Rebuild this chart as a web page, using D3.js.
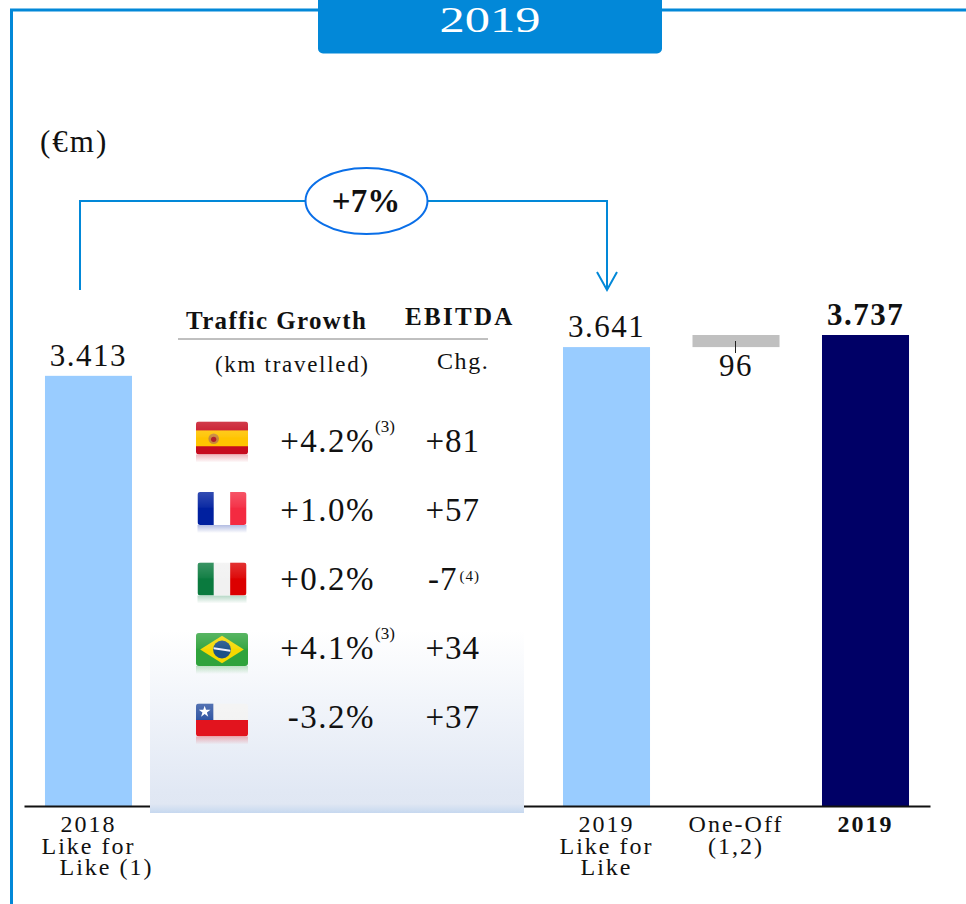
<!DOCTYPE html>
<html>
<head>
<meta charset="utf-8">
<script src="https://cdnjs.cloudflare.com/ajax/libs/d3/7.8.5/d3.min.js"></script>
<style>
  body { margin: 0; background: #fff; }
  svg { display: block; }
  text { font-family: "Liberation Serif", serif; fill: #111; }
</style>
</head>
<body>
<svg width="966" height="904"></svg>
<script>
// Chart values
var categories = ["2018 LfL", "gap1", "gap2", "gap3", "2019 LfL", "One-Off", "2019"];
var barCategories = ["2018 LfL", "2019 LfL", "One-Off", "2019"];
var barStart = [0, 0, 3641, 0];
var barEnd = [3413, 3641, 3737, 3737];
var barLabels = ["3.413", "3.641", "96", "3.737"];
var barColors = ["#99ccff", "#99ccff", "#c0c0c0", "#000066"];
var tickLabels = [["2018", "Like for", "Like (1)"], ["2019", "Like for", "Like"], ["One-Off", "(1,2)"], ["2019"]];

// Table values
var countries = ["Spain", "France", "Italy", "Brazil", "Chile"];
var trafficGrowth = ["+4.2%", "+1.0%", "+0.2%", "+4.1%", "-3.2%"];
var trafficNotes = ["(3)", "", "", "(3)", ""];
var ebitdaChange = ["+81", "+57", "-7", "+34", "+37"];
var ebitdaNotes = ["", "", "(4)", "", ""];

var svg = d3.select("svg");
var defs = svg.append("defs");
var lineBlue = "#0288d8";

// Scales
var x = d3.scaleBand()
    .domain(categories)
    .range([24, 930])
    .paddingInner(0.328)
    .paddingOuter(0.162);
var y = d3.scaleLinear()
    .domain([0, 3737])
    .range([806, 335]);
var flagY = d3.scalePoint().domain(countries).range([438, 720]);
var rowY = d3.scalePoint().domain(countries).range([452, 728]);

// Frame and title tab
svg.append("path")
    .attr("d", "M11.5,904V10H966")
    .attr("fill", "none")
    .attr("stroke", lineBlue)
    .attr("stroke-width", 3);
svg.append("rect")
    .attr("x", 318).attr("y", -10)
    .attr("width", 344).attr("height", 63.5)
    .attr("rx", 5)
    .attr("fill", "#0288d8");
svg.append("text")
    .attr("x", 490).attr("y", 31.5)
    .attr("text-anchor", "middle")
    .attr("font-size", 35)
    .attr("textLength", 101)
    .attr("lengthAdjust", "spacingAndGlyphs")
    .style("fill", "#fff")
    .text("2019");
svg.append("text")
    .attr("x", 40).attr("y", 152)
    .attr("font-size", 31)
    .attr("letter-spacing", 2)
    .text("(€m)");

// Bars
svg.append("g")
    .selectAll("rect")
    .data(barCategories)
    .enter()
    .append("rect")
    .attr("x", function (d) { return x(d); })
    .attr("width", x.bandwidth())
    .attr("y", function (d, i) { return y(barEnd[i]); })
    .attr("height", function (d, i) { return y(barStart[i]) - y(barEnd[i]); })
    .attr("fill", function (d, i) { return barColors[i]; });

// Axis
var axis = svg.append("g")
    .attr("transform", "translate(0,806)")
    .call(d3.axisBottom(x).tickValues(barCategories).tickSize(0).tickSizeOuter(0).tickFormat(""));
axis.select(".domain").attr("stroke", "#111").attr("stroke-width", 2);
axis.selectAll(".tick text").remove();
axis.selectAll(".tick")
    .append("text")
    .attr("text-anchor", "middle")
    .attr("font-size", 24)
    .attr("letter-spacing", 2)
    .attr("font-weight", function (d) { return d == "2019" ? "bold" : "normal"; })
    .selectAll("tspan")
    .data(function (d) { return tickLabels[barCategories.indexOf(d)]; })
    .enter()
    .append("tspan")
    .attr("x", function (d) { return d == "Like (1)" ? 18 : 0; })
    .attr("y", function (d, i) { return 26 + i * 21.5; })
    .text(function (d) { return d; });

// Bar labels
svg.append("g")
    .selectAll("text")
    .data(barLabels)
    .enter()
    .append("text")
    .attr("x", function (d, i) { return x(barCategories[i]) + x.bandwidth() / 2; })
    .attr("y", function (d, i) { return i == 2 ? y(barStart[i]) + 29 : y(barEnd[i]) - 10; })
    .attr("text-anchor", "middle")
    .attr("font-size", 31)
    .attr("letter-spacing", 1.5)
    .attr("font-weight", function (d, i) { return i == 3 ? "bold" : "normal"; })
    .text(function (d) { return d; });
svg.append("line")
    .attr("x1", 735.5).attr("x2", 735.5)
    .attr("y1", y(3737) + 6).attr("y2", y(3737) + 18)
    .attr("stroke", "#222");

// Growth connector
svg.append("path")
    .attr("d", "M80,290V201H607V290M597,272L607,290L617,272")
    .attr("fill", "none")
    .attr("stroke", lineBlue)
    .attr("stroke-width", 2);
svg.append("ellipse")
    .attr("cx", 366.5).attr("cy", 201)
    .attr("rx", 61).attr("ry", 33)
    .attr("fill", "#fff")
    .attr("stroke", "#0a6fe8")
    .attr("stroke-width", 2);
svg.append("text")
    .attr("x", 366).attr("y", 212)
    .attr("text-anchor", "middle")
    .attr("font-size", 33)
    .attr("font-weight", "bold")
    .text("+7%");

// Table panel
var panelGrad = defs.append("linearGradient")
    .attr("id", "panelGrad")
    .attr("x1", 0).attr("x2", 0).attr("y1", 0).attr("y2", 1);
panelGrad.selectAll("stop")
    .data([[0, "#fff"], [0.88, "#e1e8f4"], [0.95, "#e0e7f3"], [1, "#c6d8ef"]])
    .enter()
    .append("stop")
    .attr("offset", function (d) { return d[0]; })
    .attr("stop-color", function (d) { return d[1]; });
svg.append("rect")
    .attr("x", 150).attr("y", 630)
    .attr("width", 374).attr("height", 183)
    .attr("fill", "url(#panelGrad)");

// Table header
svg.append("text")
    .attr("x", 186).attr("y", 329)
    .attr("font-size", 25).attr("font-weight", "bold").attr("letter-spacing", 1.35)
    .text("Traffic Growth");
svg.append("text")
    .attr("x", 405).attr("y", 325)
    .attr("font-size", 25).attr("font-weight", "bold").attr("letter-spacing", 2.3)
    .text("EBITDA");
svg.append("line")
    .attr("x1", 178).attr("x2", 488)
    .attr("y1", 339).attr("y2", 339)
    .attr("stroke", "#808080");
svg.append("text")
    .attr("x", 215).attr("y", 372)
    .attr("font-size", 23).attr("letter-spacing", 1.7)
    .text("(km travelled)");
svg.append("text")
    .attr("x", 437).attr("y", 369)
    .attr("font-size", 24).attr("letter-spacing", 1.6)
    .text("Chg.");

// Table rows
var rows = svg.append("g")
    .selectAll("g")
    .data(countries)
    .enter()
    .append("g");
rows.append("text")
    .attr("x", 375)
    .attr("y", function (d) { return rowY(d); })
    .attr("text-anchor", "end")
    .attr("font-size", 33)
    .attr("letter-spacing", 1.5)
    .text(function (d, i) { return trafficGrowth[i]; });
rows.append("text")
    .attr("x", 375)
    .attr("y", function (d) { return rowY(d) - 20; })
    .attr("font-size", 17)
    .text(function (d, i) { return trafficNotes[i]; });
var ebitdaText = rows.append("text")
    .attr("x", 480)
    .attr("y", function (d) { return rowY(d); })
    .attr("text-anchor", "end")
    .attr("font-size", 33)
    .attr("letter-spacing", 1);
ebitdaText.append("tspan")
    .text(function (d, i) { return ebitdaChange[i]; });
ebitdaText.append("tspan")
    .attr("font-size", 15)
    .attr("dx", 2)
    .attr("dy", -9)
    .text(function (d, i) { return ebitdaNotes[i]; });

// Flags
var glossGrad = defs.append("linearGradient")
    .attr("id", "gloss")
    .attr("x1", 0).attr("x2", 0).attr("y1", 0).attr("y2", 1);
glossGrad.selectAll("stop")
    .data([[0, 0.2], [0.45, 0.05], [0.5, 0], [1, 0]])
    .enter()
    .append("stop")
    .attr("offset", function (d) { return d[0]; })
    .attr("stop-color", "#fff")
    .attr("stop-opacity", function (d) { return d[1]; });

function band(g, bx, by, bw, bh, color) {
    g.append("rect")
        .attr("x", bx).attr("y", by)
        .attr("width", bw).attr("height", bh)
        .attr("fill", color);
}

var flagArt = {
    Spain: function (g, w, h) {
        band(g, 0, 0, w, h, "#c60b1e");
        band(g, 0, h * 0.27, w, h * 0.48, "#ffc400");
        g.append("circle")
            .attr("cx", w * 0.34).attr("cy", h * 0.52).attr("r", h * 0.16)
            .attr("fill", "#c8883a");
        g.append("circle")
            .attr("cx", w * 0.34).attr("cy", h * 0.54).attr("r", h * 0.08)
            .attr("fill", "#b0202a");
    },
    France: function (g, w, h) {
        band(g, 0, 0, w / 3, h, "#00209f");
        band(g, w / 3, 0, w / 3, h, "#fff");
        band(g, w * 2 / 3, 0, w / 3, h, "#f42a41");
    },
    Italy: function (g, w, h) {
        band(g, 0, 0, w / 3, h, "#0a7a3e");
        band(g, w / 3, 0, w / 3, h, "#f1f1f1");
        band(g, w * 2 / 3, 0, w / 3, h, "#dc0000");
    },
    Brazil: function (g, w, h) {
        band(g, 0, 0, w, h, "#2fa33c");
        g.append("path")
            .attr("d", d3.line()([[w * 0.08, h / 2], [w / 2, h * 0.08], [w * 0.92, h / 2], [w / 2, h * 0.92]]))
            .attr("fill", "#f5d800");
        g.append("circle")
            .attr("cx", w / 2).attr("cy", h / 2).attr("r", h * 0.27)
            .attr("fill", "#1c5088");
        g.append("path")
            .attr("d", d3.line()([[w * 0.34, h * 0.46], [w * 0.66, h * 0.54]]))
            .attr("stroke", "#eef").attr("stroke-width", 2);
    },
    Chile: function (g, w, h) {
        band(g, 0, 0, w, h, "#f2f2f2");
        band(g, 0, h / 2, w, h / 2, "#e2141e");
        band(g, 0, 0, w / 3, h / 2, "#2a50a0");
        g.append("path")
            .attr("transform", "translate(" + (w / 6) + "," + (h / 4) + ")")
            .attr("d", d3.symbol(d3.symbolStar, 42)())
            .attr("fill", "#fff");
    }
};
var reflectColor = { Spain: "#c60b1e", France: "#00209f", Italy: "#0a7a3e", Brazil: "#2fa33c", Chile: "#e2141e" };

countries.forEach(function (name, i) {
    var w = (name == "France" || name == "Italy") ? 49 : 52;
    var h = 33;
    var g = svg.append("g")
        .attr("transform", "translate(" + (222 - w / 2) + "," + (flagY(name) - h / 2) + ")");
    defs.append("clipPath")
        .attr("id", "clip" + i)
        .append("rect")
        .attr("width", w).attr("height", h).attr("rx", 3);
    // faint mirror under the flag
    var reflectGrad = defs.append("linearGradient")
        .attr("id", "reflect" + i)
        .attr("x1", 0).attr("x2", 0).attr("y1", 0).attr("y2", 1);
    reflectGrad.append("stop").attr("offset", 0).attr("stop-color", reflectColor[name]).attr("stop-opacity", 0.3);
    reflectGrad.append("stop").attr("offset", 1).attr("stop-color", reflectColor[name]).attr("stop-opacity", 0);
    g.append("rect")
        .attr("x", 0).attr("y", h)
        .attr("width", w).attr("height", 8)
        .attr("fill", "url(#reflect" + i + ")");
    var art = g.append("g").attr("clip-path", "url(#clip" + i + ")");
    flagArt[name](art, w, h);
    band(art, 0, 0, w, h, "url(#gloss)");
});
</script>
</body>
</html>
